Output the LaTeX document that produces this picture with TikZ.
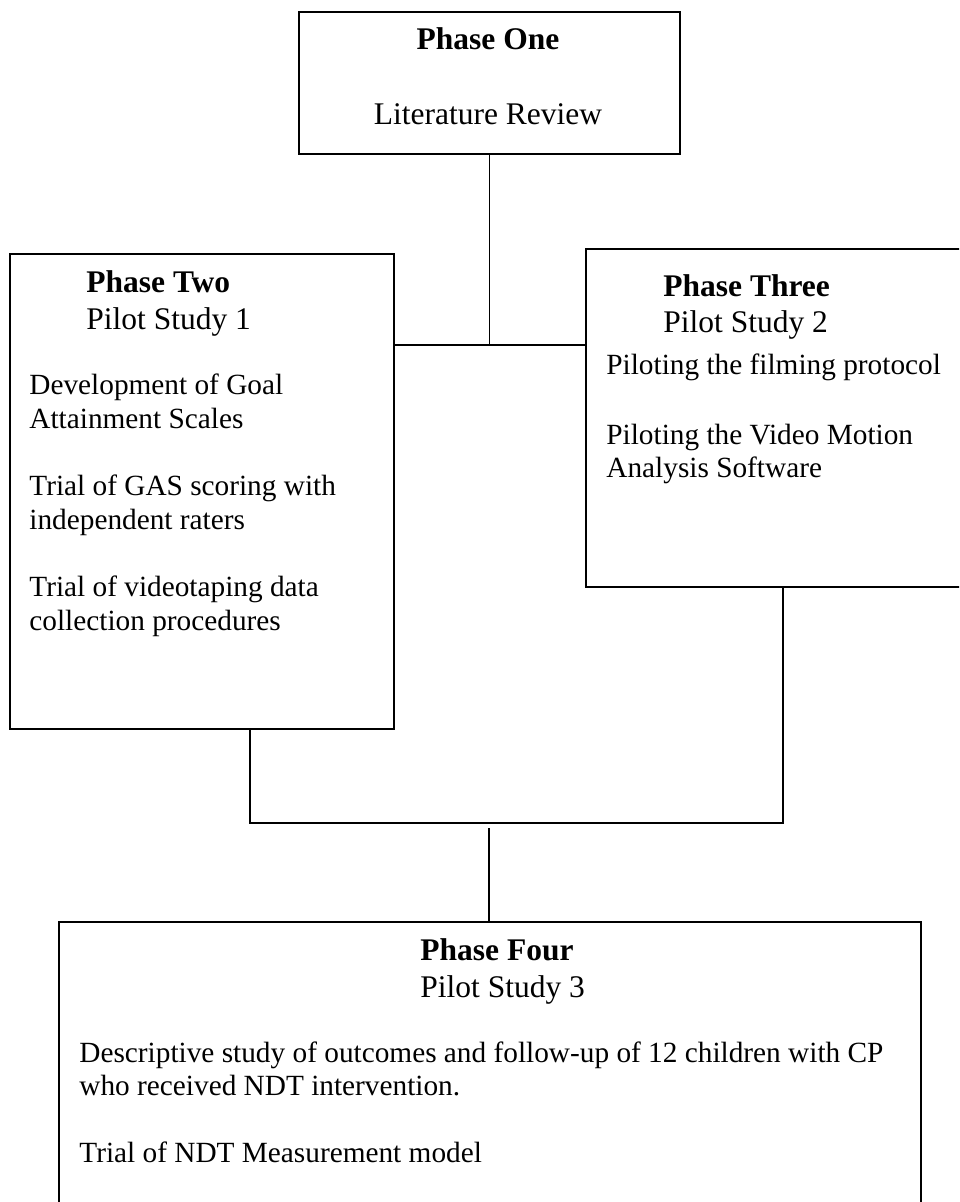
\documentclass[tikz,border=0pt]{standalone}
\usepackage{fontspec}
\setmainfont{Liberation Serif}
\usepackage{tikz}
\usetikzlibrary{positioning}

\newcommand{\headsize}{\fontsize{15.75}{18.1}\selectfont}
\newcommand{\bodysize}{\fontsize{14.65}{16.85}\selectfont}

\begin{document}
\begin{tikzpicture}[x=0.5pt, y=-0.5pt,
  phase/.style={rectangle, draw=black, line width=1pt, inner sep=0pt,
    anchor=north west},
  %
  head/.style={font=\headsize\bfseries, inner sep=0pt, anchor=base west},
  %
  sub/.style={font=\headsize, inner sep=0pt, anchor=base west},
  %
  body/.style={font=\bodysize, inner sep=0pt, anchor=base west},
  %
  link/.style={draw=black, line width=0.9pt}
  ]

  \useasboundingbox (0,0) rectangle (959,1202);
  \clip (0,0) rectangle (959,1202);
  \fill[white] (0,0) rectangle (959,1202);

  % the four boxes
  \node [phase, minimum width=190.5pt, minimum height=71pt] (one) at (298,11) {};
  \node [phase, minimum width=192pt, minimum height=237.5pt] (two) at (9,253) {};
  \node [phase, minimum width=197.5pt, minimum height=169pt] (three) at (585,248) {};
  \node [phase, minimum width=431pt, minimum height=159.5pt] (four) at (58,921) {};

  % Phase One
  \node [head, anchor=base] (onehead) at (488,50) {Phase One};
  \node [sub, anchor=base] (onesub) at (488,125) {Literature Review};

  % Phase Two
  \node [head] (twohead) at (86,293) {Phase Two};
  \node [sub] (twosub) at (86,330) {Pilot Study 1};
  \node [body] (twoa) at (29,395) {Development of Goal};
  \node [body] (twob) at (29,428.5) {Attainment Scales};
  \node [body] (twoc) at (29,495.5) {Trial of GAS scoring with};
  \node [body] (twod) at (29,529) {independent raters};
  \node [body] (twoe) at (29,596.5) {Trial of videotaping data};
  \node [body] (twof) at (29,630) {collection procedures};

  % Phase Three
  \node [head] (threehead) at (663,297) {Phase Three};
  \node [sub] (threesub) at (663,333) {Pilot Study 2};
  \node [body] (threea) at (606,375) {Piloting the filming protocol};
  \node [body] (threeb) at (606,445) {Piloting the Video Motion};
  \node [body] (threec) at (606,478) {Analysis Software};

  % Phase Four
  \node [head] (fourhead) at (420,960) {Phase Four};
  \node [sub] (foursub) at (420,997) {Pilot Study 3};
  \node [body] (foura) at (79,1062)
    {Descriptive study of outcomes and follow-up of 12 children with CP};
  \node [body] (fourb) at (79,1095) {who received NDT intervention.};
  \node [body] (fourc) at (79,1162) {Trial of NDT Measurement model};

  % connectors
  \coordinate (top) at (489,345);
  \coordinate (lowl) at (250,823);
  \coordinate (lowr) at (783,823);
  \coordinate (mid) at (489,828);

  \draw [link] (one.south) -- (one.south |- top);
  \draw [link] (two.east |- top) -- (three.west |- top);
  \draw [link] (two.south -| lowl) -- (lowl) -- (lowr) -- (three.south -| lowr);
  \draw [link] (mid) -- (mid |- four.north);

\end{tikzpicture}
\end{document}
